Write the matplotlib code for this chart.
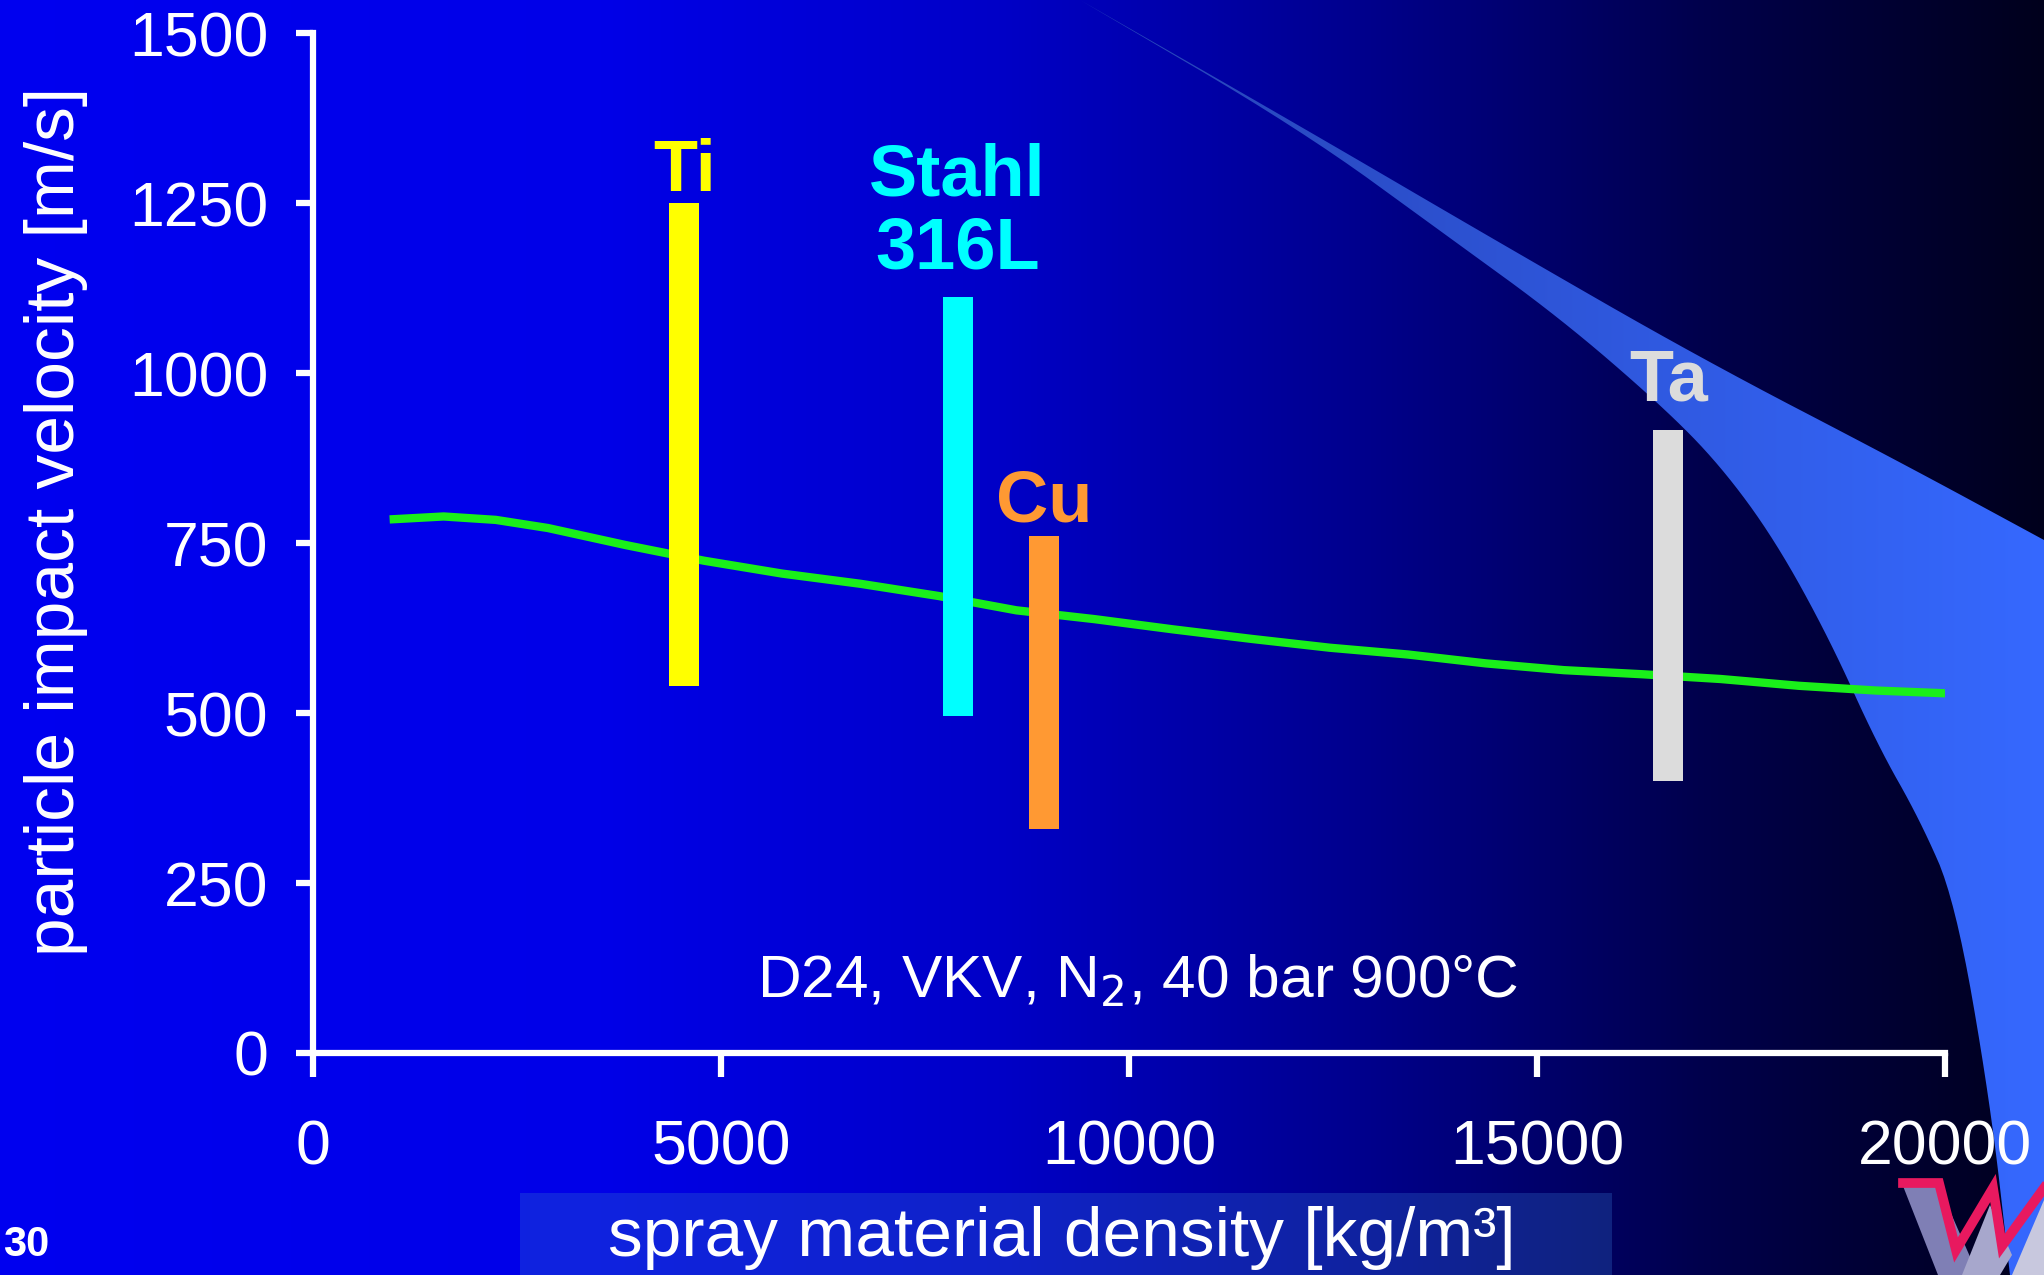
import numpy as np
import matplotlib
matplotlib.use("Agg")
import matplotlib.pyplot as plt
from matplotlib.patches import Polygon, Rectangle

plt.rcParams['font.family'] = ['Liberation Sans', 'DejaVu Sans']

# particle impact velocity vs. spray material density (D24 nozzle)
curve_density = [990, 1600, 2240, 2880, 3830, 4790, 5750, 6710, 7670, 8620,
                 9580, 10540, 11500, 12460, 13420, 14370, 15330, 16290,
                 17250, 18210, 19160, 20000]
curve_velocity = [785, 789, 784, 772, 747, 724, 705, 690, 672, 651,
                  638, 623, 609, 596, 586, 573, 563, 557,
                  550, 540, 533, 529]

# velocity windows for the materials
materials = ['Ti', 'Stahl\n316L', 'Cu', 'Ta']
mat_density = [4550, 7900, 8960, 16610]
vel_low = [540, 495, 330, 400]
vel_high = [1250, 1112, 760, 916]
bar_colors = ['#ffff00', '#00ffff', '#ff9933', '#dcdcdc']
label_y = [1296, 1235, 810, 987]

xticks = [0, 5000, 10000, 15000, 20000]
yticks = [0, 250, 500, 750, 1000, 1250, 1500]

W, H = 2044, 1275


def chaikin(pts, n=3):
    # corner cutting, keeps both end points
    p = np.asarray(pts, float)
    for _ in range(n):
        q = 0.75 * p[:-1] + 0.25 * p[1:]
        r = 0.25 * p[:-1] + 0.75 * p[1:]
        mid = np.empty((2 * len(q), 2))
        mid[0::2] = q
        mid[1::2] = r
        p = np.vstack([p[:1], mid, p[-1:]])
    return p


fig = plt.figure(figsize=(W / 100, H / 100), dpi=100)

# slide background
bg = fig.add_axes([0, 0, 1, 1])
bg.set_xlim(0, W)
bg.set_ylim(H, 0)
bg.axis('off')
cols = np.arange(W)
blue = np.interp(cols, [0, 600, 1000, 1350, 1700, 2044],
                 [0.94, 0.91, 0.78, 0.56, 0.30, 0.11])
grad = np.zeros((2, W, 3))
grad[:, :, 2] = blue
bg.imshow(grad, extent=(0, W, H, 0), aspect='auto', zorder=0)

# light blue swoosh on the right
upper = chaikin([(1080, 0), (1300, 126), (1500, 243), (1700, 358),
                 (1900, 462), (2044, 540)])
lower = chaikin([(2010, 1275), (1990, 1100), (1955, 900), (1920, 820), (1877, 744),
                 (1830, 640), (1775, 540), (1720, 465), (1661, 405), (1560, 318),
                 (1450, 238), (1300, 129), (1080, 0)])
outline = np.vstack([upper, [(2044, 1275)], lower])
swoosh = Polygon(outline, closed=True, facecolor='none', edgecolor='none')
bg.add_patch(swoosh)
sw = np.zeros((2, W, 3))
t = np.clip((cols - 1200) / 844, 0, 1)
sw[:, :, 0] = 0.16 + 0.05 * t
sw[:, :, 1] = 0.28 + 0.13 * t
sw[:, :, 2] = 0.74 + 0.26 * t
im = bg.imshow(sw, extent=(0, W, H, 0), aspect='auto', zorder=1)
im.set_clip_path(swoosh)

# box behind the x-axis title
bg.add_patch(Rectangle((520, 1193), 1092, 90, facecolor=(0.2, 0.45, 0.8),
                       alpha=0.3, edgecolor='none', zorder=2))

# logo corner
bg.add_patch(Polygon([(1903, 1186), (1939, 1186), (1978, 1275), (1938, 1275)],
                     closed=True, facecolor='#7f7fb5', edgecolor='none', zorder=3))
bg.add_patch(Polygon([(1962, 1275), (1990, 1205), (2012, 1255), (2000, 1275)],
                     closed=True, facecolor='#a7a7cc', edgecolor='none', zorder=3))
bg.add_patch(Polygon([(2012, 1275), (2044, 1200), (2044, 1275)],
                     closed=True, facecolor='#c8c8de', edgecolor='none', zorder=3))
bg.plot([1903, 1939, 1956, 1993, 2002, 2044], [1183, 1183, 1250, 1188, 1246, 1188],
        color='#e8195f', lw=7, solid_joinstyle='miter', zorder=4)

fig.text(3 / W, 1 - 1245 / H, '30', color='white', fontsize=30,
         fontweight='bold', ha='left', va='center')

# chart
ax = fig.add_axes([313 / W, 1 - 1053 / H, (1945 - 313) / W, (1053 - 33) / H])
ax.patch.set_alpha(0)
ax.set_xlim(0, 20000)
ax.set_ylim(0, 1500)

ax.plot(curve_density, curve_velocity, color='#1aef1a', lw=6, zorder=2)
ax.bar(mat_density, np.array(vel_high) - np.array(vel_low), bottom=vel_low,
       width=370, color=bar_colors, zorder=3)
for x, y, name, c in zip(mat_density, label_y, materials, bar_colors):
    ax.text(x, y, name, color=c, fontsize=52, fontweight='bold',
            ha='center', va='center', linespacing=1.1)

ax.text(10100, 107, 'D24, VKV, N$_2$, 40 bar 900°C', color='white',
        fontsize=43.5, ha='center', va='center')

for s in ['top', 'right']:
    ax.spines[s].set_visible(False)
for s in ['left', 'bottom']:
    ax.spines[s].set_color('white')
    ax.spines[s].set_linewidth(4.5)
ax.set_xticks(xticks)
ax.set_yticks(yticks)
ax.tick_params(colors='white', labelcolor='white', width=4.5, labelsize=45)
ax.tick_params(axis='x', length=17, pad=30)
ax.tick_params(axis='y', length=12, pad=20)

fig.text(56 / W, 1 - 521 / H, 'particle impact velocity [m/s]', color='white',
         fontsize=50, rotation=90, ha='center', va='center')
fig.text(1062 / W, 1 - 1238 / H, 'spray material density [kg/m³]', color='white',
         fontsize=50, ha='center', va='center')

fig.savefig('out.png', dpi=100)
